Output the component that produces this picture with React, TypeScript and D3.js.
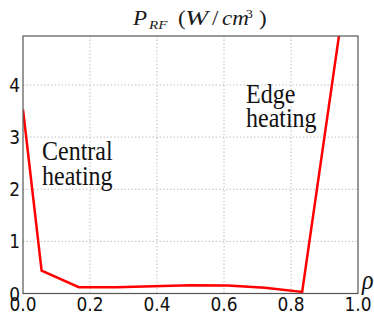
import React from "react";
import * as d3 from "d3";

const rho = [0, 1 / 18, 3 / 18, 5 / 18, 7 / 18, 9 / 18, 11 / 18, 13 / 18, 15 / 18, 17 / 18];
const power = [3.53, 0.44, 0.12, 0.12, 0.14, 0.16, 0.155, 0.11, 0.03, 5.0];
const xTicks = [0, 0.2, 0.4, 0.6, 0.8, 1.0];
const yTicks = [0, 1, 2, 3, 4];

const W = 374, H = 314;
const L = 23, R = 358, T = 36, B = 293.5;
const SY = 1.17;
const SERIF = "'Liberation Serif', 'DejaVu Serif', serif";

export default function App() {
  const x = d3.scaleLinear().domain([0, 1]).range([L, R]);
  const y = d3.scaleLinear().domain([0, 4.94]).range([B, T]);
  const line = d3.line<number>().x((_, i) => x(rho[i])).y((d) => y(d));
  const stretch = (px: number, py: number) => `translate(${px},${py}) scale(1,${SY})`;
  const tt = (px: number, py: number, sx = 1.15) => `translate(${px},${py}) scale(${sx},1)`;
  return (
    <svg width={W} height={H} style={{ position: "absolute", left: 0, top: 0, background: "#fff" }}>
      <defs>
        <clipPath id="clip">
          <rect x={L} y={T} width={R - L} height={B - T} />
        </clipPath>
      </defs>
      <rect x={0} y={0} width={W} height={H} fill="#fff" />
      {xTicks.slice(1, -1).map((t) => (
        <line key={"gx" + t} x1={x(t)} x2={x(t)} y1={T} y2={B} stroke="#b0b0b0" strokeWidth={0.8} strokeDasharray="1.5,2" />
      ))}
      {yTicks.slice(1).map((t) => (
        <line key={"gy" + t} x1={L} x2={R} y1={y(t)} y2={y(t)} stroke="#b0b0b0" strokeWidth={0.8} strokeDasharray="1.5,2" />
      ))}
      <path d={line(power) || ""} fill="none" stroke="#ff0000" strokeWidth={2.5} clipPath="url(#clip)" />
      <rect x={L} y={T} width={R - L} height={B - T} fill="none" stroke="#555" strokeWidth={1.2} />
      {xTicks.map((t) => (
        <text key={"xt" + t} transform={stretch(x(t), 311)} textAnchor="middle" fontFamily="DejaVu Sans" fontSize={17} fill="#111">
          {t.toFixed(1)}
        </text>
      ))}
      {yTicks.map((t) => (
        <text key={"yt" + t} transform={stretch(20, y(t) + 7)} textAnchor="end" fontFamily="DejaVu Sans" fontSize={17} fill="#111">
          {t}
        </text>
      ))}
      <g style={{ fontFamily: SERIF }} fill="#1a1a1a">
        <text transform={tt(133, 25)} fontSize={20} fontStyle="italic">P</text>
        <text transform={tt(149, 28.5)} fontSize={13} fontStyle="italic">RF</text>
        <text transform={tt(178, 25)} fontSize={20}>(</text>
        <text transform={tt(185, 25, 1.4)} fontSize={20} fontStyle="italic">W</text>
        <text transform={tt(212, 25)} fontSize={20}>/</text>
        <text transform={tt(222, 25)} fontSize={20} fontStyle="italic">cm</text>
        <text transform={tt(246, 17.5)} fontSize={12}>3</text>
        <text transform={tt(259, 25)} fontSize={20}>)</text>
      </g>
      <text transform={stretch(42, 160)} style={{ fontFamily: SERIF }} fontSize={24} fill="#111">Central</text>
      <text transform={stretch(42, 185)} style={{ fontFamily: SERIF }} fontSize={24} fill="#111">heating</text>
      <text transform={stretch(246, 102.5)} style={{ fontFamily: SERIF }} fontSize={24} fill="#111">Edge</text>
      <text transform={stretch(246, 126.5)} style={{ fontFamily: SERIF }} fontSize={24} fill="#111">heating</text>
      <text transform={stretch(362, 289)} style={{ fontFamily: SERIF }} fontStyle="italic" fontSize={24} fill="#111">ρ</text>
    </svg>
  );
}
